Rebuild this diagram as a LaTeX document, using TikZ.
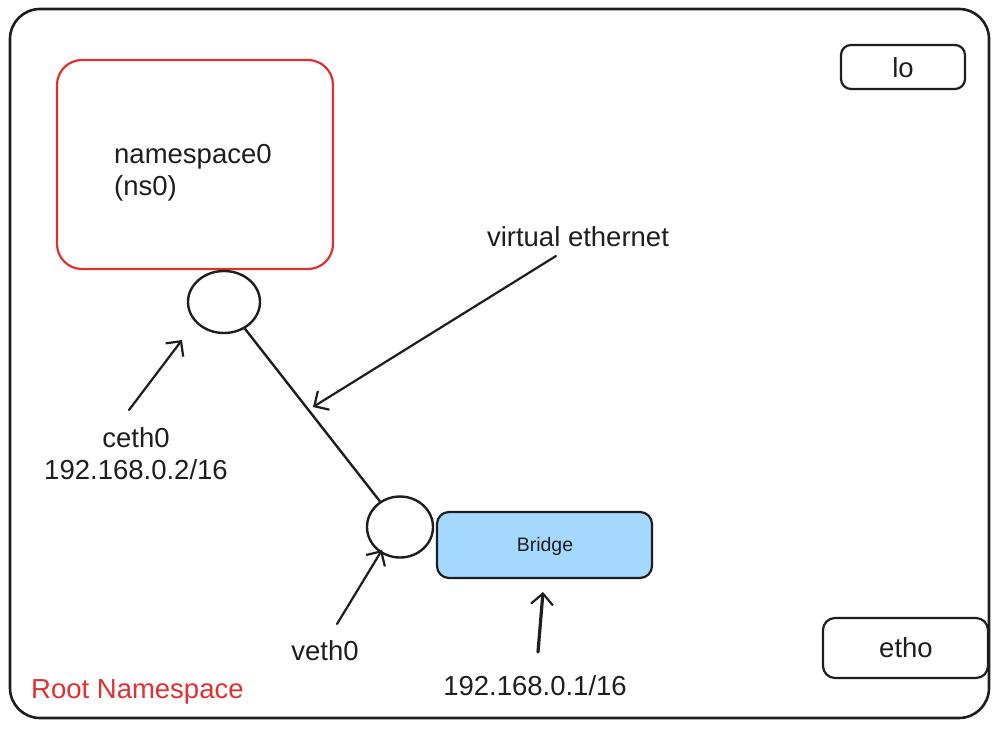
\documentclass[tikz,border=0pt]{standalone}
\usepackage{fontspec}
\setmainfont{Liberation Sans}
\usetikzlibrary{arrows.meta,shapes.geometric}
\definecolor{ink}{HTML}{1E1E1E}
\definecolor{redink}{HTML}{E03131}
\definecolor{bridgefill}{HTML}{A5D8FF}
\tikzset{
  txt/.style={text=ink, inner sep=0pt, font=\fontsize{27.5bp}{32bp}\selectfont},
  box/.style={draw=ink, line width=2.2bp, inner sep=0pt},
  port/.style={ellipse, draw=ink, line width=2.4bp, inner sep=0pt},
  pointer/.style={draw=ink, line width=2.2bp, line cap=round, -{Straight Barb[length=11bp,width=22bp,line width=2.2bp]}},
}
\begin{document}
\begin{tikzpicture}[x=1bp,y=-1bp]
\useasboundingbox (0,0) rectangle (999,730);
\fill[white] (0,0) rectangle (999,730);

% outer root namespace box
\node[box, line width=2.6bp, rounded corners=30bp, minimum width=979bp, minimum height=709bp] (root) at (499.5,363.5) {};

% namespace0 box
\node[box, draw=redink, rounded corners=25bp, minimum width=276bp, minimum height=209bp] (ns) at (195,164.5) {};
\node[txt, anchor=west, align=left] (nslabel) at (114,173) {namespace0\\(ns0)};

% lo and etho
\node[box, rounded corners=10bp, minimum width=124bp, minimum height=44bp] (lo) at (903,67) {};
\node[txt] (lolabel) at (903,68) {lo};
\node[box, rounded corners=12bp, minimum width=165bp, minimum height=60bp] (etho) at (905.5,648) {};
\node[txt] (etholabel) at (906,648) {etho};

% ports
\node[port, minimum width=72bp, minimum height=62bp] (ceth) at (224,302) {};
\node[port, minimum width=66bp, minimum height=61bp] (veth) at (400,527) {};

% bridge
\node[box, fill=bridgefill, rounded corners=12bp, minimum width=215bp, minimum height=66bp] (bridge) at (544.5,545) {};
\node[txt, font=\fontsize{19.5bp}{22bp}\selectfont] (bridgelabel) at (545,546) {Bridge};

% veth pair link
\draw[draw=ink, line width=2.4bp] (ceth) -- (veth);

% labels
\node[txt] (velabel) at (578,237) {virtual ethernet};
\node[txt, align=center] (cethlabel) at (136,454) {ceth0\\192.168.0.2/16};
\node[txt] (vethlabel) at (325,651) {veth0};
\node[txt] (brip) at (535,686) {192.168.0.1/16};
\node[txt, text=redink, anchor=west] (rootlabel) at (31,692) {Root Namespace};

% arrow end points
\coordinate (veS) at (556,256);
\coordinate (veE) at (313,407);
\coordinate (cS) at (129,410);
\coordinate (cE) at (182,340);
\coordinate (vS) at (337,624);
\coordinate (vE) at (382,550);
\coordinate (bS) at (538,652);
\coordinate (bE) at (543,592);

\draw[pointer] (veS) -- (veE);
\draw[pointer] (cS) -- (cE);
\draw[pointer] (vS) -- (vE);
\draw[pointer, line width=3.2bp] (bS) -- (bE);
\end{tikzpicture}
\end{document}
